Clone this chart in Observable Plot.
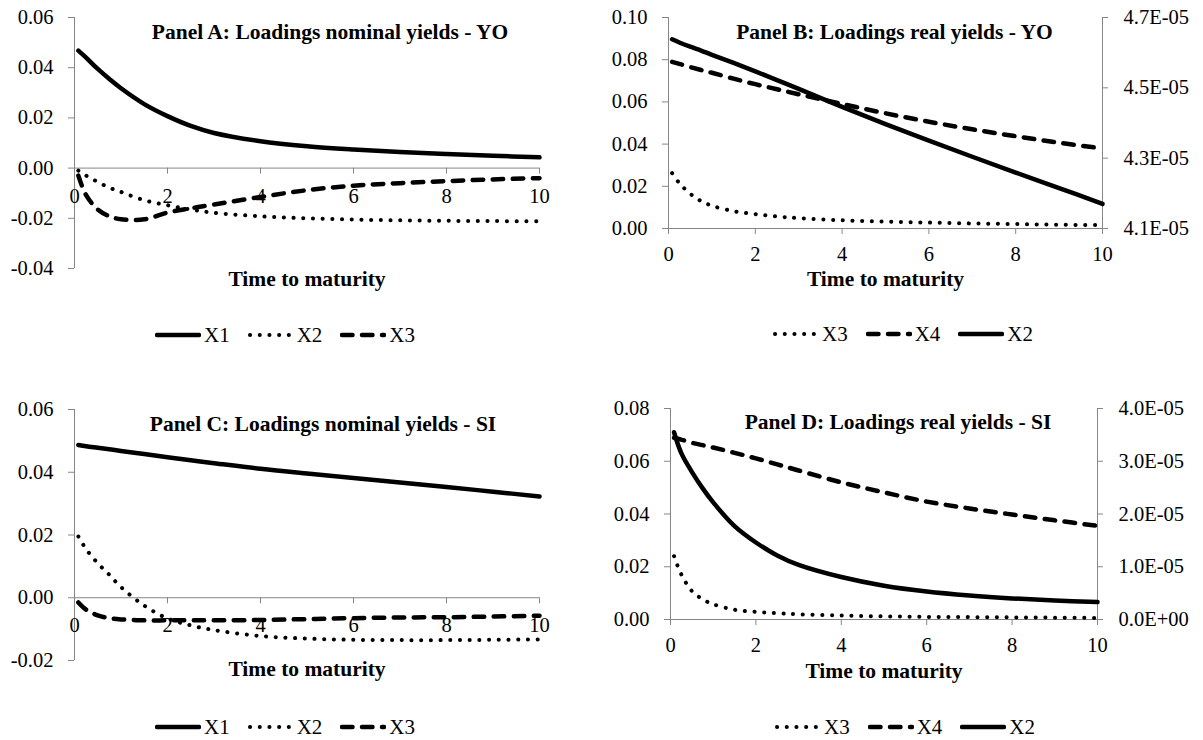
<!DOCTYPE html>
<html><head><meta charset="utf-8">
<script src="https://cdn.jsdelivr.net/npm/d3@7"></script>
<script src="https://cdn.jsdelivr.net/npm/@observablehq/plot@0.6"></script>
<style>
body{margin:0;background:#fff;}
#root{position:relative;width:1203px;height:740px;overflow:hidden;font-family:"Liberation Serif","Times New Roman",serif;}
.panel{position:absolute;}
.panel svg text{font-family:"Liberation Serif","Times New Roman",serif;}
.legend{position:absolute;display:flex;align-items:center;font-size:21px;height:24px;color:#000;white-space:nowrap;}
.legend .item{display:flex;align-items:center;margin-right:18px;}
.legend svg{display:block;margin-right:3px;}
</style></head><body><div id="root"></div>
<script>
// ---- data (time to maturity in years) ----
const maturity = [0.083, 0.25, 0.5, 0.75, 1, 1.5, 2, 2.5, 3, 4, 5, 6, 7, 8, 9, 10];
const xTicks = [0, 2, 4, 6, 8, 10];

// Panel A: nominal yields - YO
const aX1 = [0.0468, 0.0440, 0.0395, 0.0355, 0.0318, 0.0255, 0.0207, 0.0168, 0.0140, 0.0107, 0.0087, 0.0074, 0.0064, 0.0056, 0.0049, 0.0043];
const aX2 = [-0.0010, -0.0030, -0.0055, -0.0078, -0.0095, -0.0128, -0.0148, -0.0165, -0.0178, -0.0192, -0.0200, -0.0205, -0.0208, -0.0210, -0.0211, -0.0212];
const aX3 = [-0.0030, -0.0108, -0.0165, -0.0192, -0.0204, -0.0204, -0.0177, -0.0160, -0.0145, -0.0115, -0.0088, -0.0070, -0.0060, -0.0052, -0.0045, -0.0040];
const aTicks = [-0.04, -0.02, 0, 0.02, 0.04, 0.06];

// Panel B: real yields - YO (X2 on secondary axis)
const bX3 = [0.0262, 0.0215, 0.0165, 0.0130, 0.0108, 0.0082, 0.0068, 0.0057, 0.0049, 0.0039, 0.0033, 0.0028, 0.0024, 0.0021, 0.0018, 0.0016];
const bX4 = [0.0790, 0.0780, 0.0765, 0.0751, 0.0738, 0.0710, 0.0684, 0.0660, 0.0636, 0.0590, 0.0546, 0.0506, 0.0470, 0.0437, 0.0407, 0.0379];
const bX2 = [4.638e-5, 4.629e-5, 4.617e-5, 4.606e-5, 4.594e-5, 4.571e-5, 4.547e-5, 4.522e-5, 4.497e-5, 4.446e-5, 4.397e-5, 4.350e-5, 4.304e-5, 4.259e-5, 4.215e-5, 4.170e-5];
const bTicks = [0, 0.02, 0.04, 0.06, 0.08, 0.10];
const bRightTicks = [4.1e-5, 4.3e-5, 4.5e-5, 4.7e-5];

// Panel C: nominal yields - SI
const cX1 = [0.0487, 0.0483, 0.0478, 0.0473, 0.0468, 0.0458, 0.0448, 0.0438, 0.0429, 0.0411, 0.0396, 0.0382, 0.0367, 0.0353, 0.0338, 0.0323];
const cX2 = [0.0195, 0.0155, 0.0110, 0.0073, 0.0034, -0.0025, -0.0066, -0.0088, -0.0103, -0.0122, -0.0130, -0.0134, -0.0135, -0.0135, -0.0134, -0.0133];
const cX3 = [-0.0015, -0.0038, -0.0056, -0.0065, -0.0069, -0.0072, -0.0072, -0.0072, -0.0072, -0.0071, -0.0068, -0.0065, -0.0063, -0.0062, -0.0060, -0.0057];
const cTicks = [-0.02, 0, 0.02, 0.04, 0.06];

// Panel D: real yields - SI (X2 on secondary axis)
const dX3 = [0.0240, 0.0172, 0.0108, 0.0077, 0.0058, 0.0037, 0.0029, 0.0024, 0.0020, 0.0015, 0.0012, 0.0010, 0.0009, 0.0008, 0.0007, 0.0006];
const dX4 = [0.0689, 0.0682, 0.0670, 0.0661, 0.0652, 0.0632, 0.0611, 0.0588, 0.0565, 0.0520, 0.0482, 0.0447, 0.0421, 0.0398, 0.0376, 0.0355];
const dX2 = [3.55e-5, 3.16e-5, 2.80e-5, 2.49e-5, 2.22e-5, 1.77e-5, 1.46e-5, 1.215e-5, 1.035e-5, 0.805e-5, 0.64e-5, 0.53e-5, 0.455e-5, 0.40e-5, 0.36e-5, 0.33e-5];
const dTicks = [0, 0.02, 0.04, 0.06, 0.08];
const dRightTicks = [0, 1e-5, 2e-5, 3e-5, 4e-5];

// ---- styles ----
const GRAY = "#868686";
const SERIF = "Liberation Serif, Times New Roman, serif";
const STYLES = {
  solid: {stroke: "#000", strokeWidth: 4.5, strokeLinecap: "round"},
  dotted: {stroke: "#000", strokeWidth: 4, strokeDasharray: "0.1 9.6", strokeLinecap: "round"},
  dashed: {stroke: "#000", strokeWidth: 4.5, strokeDasharray: "10.5 9.5", strokeLinecap: "round"}
};
const fmtLeft = (d) => d.toFixed(2);
function sci(v) {
  if (v === 0) return "0.0E+00";
  let e = Math.floor(Math.log10(Math.abs(v)) + 1e-9);
  let m = +(v / Math.pow(10, e)).toFixed(1);
  if (Math.abs(m) >= 10) { m /= 10; e += 1; }
  const sign = e < 0 ? "-" : "+";
  return m.toFixed(1) + "E" + sign + String(Math.abs(e)).padStart(2, "0");
}

const root = document.getElementById("root");

function panel(cfg) {
  const conv = cfg.right ? d3.scaleLinear().domain(cfg.right.domain).range(cfg.yDomain) : null;
  const txt = {fill: "#000", fontFamily: SERIF, fontSize: 20.5};
  const marks = [];
  // axes lines
  marks.push(Plot.ruleX([0], {x: (d) => d, stroke: GRAY, strokeWidth: 1}));
  if (cfg.right) marks.push(Plot.ruleX([10], {x: (d) => d, stroke: GRAY, strokeWidth: 1}));
  marks.push(Plot.ruleY([0], {y: (d) => d, stroke: GRAY, strokeWidth: 1}));
  // x ticks (downward from the zero line)
  marks.push(Plot.ruleX(xTicks, {x: (d) => d, y1: () => 0, y2: () => 0, insetBottom: -6, stroke: GRAY, strokeWidth: 1}));
  // left y ticks
  marks.push(Plot.ruleY(cfg.yTicks, {y: (d) => d, x1: () => 0, x2: () => 0, insetLeft: -6, stroke: GRAY, strokeWidth: 1}));
  marks.push(Plot.text(cfg.yTicks, {y: (d) => d, frameAnchor: "left", dx: -21, textAnchor: "end", text: fmtLeft, ...txt}));
  // right y ticks
  if (cfg.right) {
    marks.push(Plot.ruleY(cfg.right.ticks, {y: (d) => conv(d), x1: () => 10, x2: () => 10, insetRight: -6, stroke: GRAY, strokeWidth: 1}));
    marks.push(Plot.text(cfg.right.ticks, {y: (d) => conv(d), frameAnchor: "right", dx: 21, textAnchor: "start", text: sci, ...txt}));
  }
  // x tick labels
  marks.push(Plot.text(xTicks, {x: (d) => d, y: () => 0, dy: cfg.xLabelDy, text: (d) => String(d), ...txt}));
  // series
  for (const s of cfg.series) {
    const rows = maturity.map((t, i) => ({t, v: s.axis === "right" ? conv(s.values[i]) : s.values[i]}));
    marks.push(Plot.line(rows, {x: "t", y: "v", curve: "catmull-rom", ...STYLES[s.style]}));
  }
  // title and axis label
  marks.push(Plot.text([cfg.title], {frameAnchor: "top", dx: cfg.titleDx, dy: cfg.titleDy, text: (d) => d, ...txt, fontWeight: "bold", fontSize: 21.5}));
  marks.push(Plot.text(["Time to maturity"], {frameAnchor: "bottom", dy: cfg.xTitleDy, text: (d) => d, ...txt, fontWeight: "bold", fontSize: 21.5}));

  const svg = Plot.plot({
    width: cfg.width, height: cfg.height,
    marginLeft: cfg.m[0], marginRight: cfg.m[1], marginTop: cfg.m[2], marginBottom: cfg.m[3],
    x: {domain: [0, 10], axis: null},
    y: {domain: cfg.yDomain, axis: null},
    style: {fontFamily: SERIF, fontSize: "20.5px", background: "transparent", overflow: "visible", color: "#000"},
    marks
  });
  const wrap = document.createElement("div");
  wrap.className = "panel";
  wrap.style.left = cfg.left + "px";
  wrap.style.top = cfg.top + "px";
  wrap.appendChild(svg);
  root.appendChild(wrap);

  // legend
  const leg = document.createElement("div");
  leg.className = "legend";
  leg.style.left = cfg.legend.left + "px";
  leg.style.top = (cfg.legend.y - 12) + "px";
  for (const it of cfg.legend.items) {
    const st = STYLES[it.style];
    const item = document.createElement("div");
    item.className = "item";
    const sw = `<svg width="46" height="12"><line x1="2" y1="6" x2="44" y2="6" stroke="${st.stroke}" stroke-width="${st.strokeWidth}" stroke-linecap="round" ${st.strokeDasharray ? `stroke-dasharray="${st.strokeDasharray}"` : ""}/></svg>`;
    item.innerHTML = sw + `<span>${it.name}</span>`;
    leg.appendChild(item);
  }
  root.appendChild(leg);
}

panel({
  left: 0, top: 0, width: 600, height: 300, m: [74, 61, 17, 32],
  yDomain: [-0.04, 0.06], yTicks: aTicks, xLabelDy: 28,
  title: "Panel A: Loadings nominal yields - YO", titleDx: 23, titleDy: 6, xTitleDy: 17,
  series: [
    {name: "X1", values: aX1, style: "solid"},
    {name: "X2", values: aX2, style: "dotted"},
    {name: "X3", values: aX3, style: "dashed"}
  ],
  legend: {left: 155, y: 335, items: [{name: "X1", style: "solid"}, {name: "X2", style: "dotted"}, {name: "X3", style: "dashed"}]}
});

panel({
  left: 600, top: 0, width: 603, height: 300, m: [68, 101, 17, 72],
  yDomain: [0, 0.10], yTicks: bTicks, xLabelDy: 26,
  right: {domain: [4.1e-5, 4.7e-5], ticks: bRightTicks},
  title: "Panel B: Loadings real yields - YO", titleDx: 9, titleDy: 6, xTitleDy: 57,
  series: [
    {name: "X3", values: bX3, style: "dotted"},
    {name: "X4", values: bX4, style: "dashed"},
    {name: "X2", values: bX2, style: "solid", axis: "right"}
  ],
  legend: {left: 773, y: 334, items: [{name: "X3", style: "dotted"}, {name: "X4", style: "dashed"}, {name: "X2", style: "solid"}]}
});

panel({
  left: 0, top: 370, width: 600, height: 320, m: [74, 61, 39, 30],
  yDomain: [-0.02, 0.06], yTicks: cTicks, xLabelDy: 28,
  title: "Panel C: Loadings nominal yields - SI", titleDx: 16, titleDy: 6, xTitleDy: 15,
  series: [
    {name: "X1", values: cX1, style: "solid"},
    {name: "X2", values: cX2, style: "dotted"},
    {name: "X3", values: cX3, style: "dashed"}
  ],
  legend: {left: 155, y: 727, items: [{name: "X1", style: "solid"}, {name: "X2", style: "dotted"}, {name: "X3", style: "dashed"}]}
});

panel({
  left: 600, top: 370, width: 603, height: 320, m: [70, 106, 38, 71],
  yDomain: [0, 0.08], yTicks: dTicks, xLabelDy: 26,
  right: {domain: [0, 4e-5], ticks: dRightTicks},
  title: "Panel D: Loadings real yields - SI", titleDx: 14, titleDy: 5, xTitleDy: 58,
  series: [
    {name: "X3", values: dX3, style: "dotted"},
    {name: "X4", values: dX4, style: "dashed"},
    {name: "X2", values: dX2, style: "solid", axis: "right"}
  ],
  legend: {left: 775, y: 727, items: [{name: "X3", style: "dotted"}, {name: "X4", style: "dashed"}, {name: "X2", style: "solid"}]}
});
</script>
</body></html>
